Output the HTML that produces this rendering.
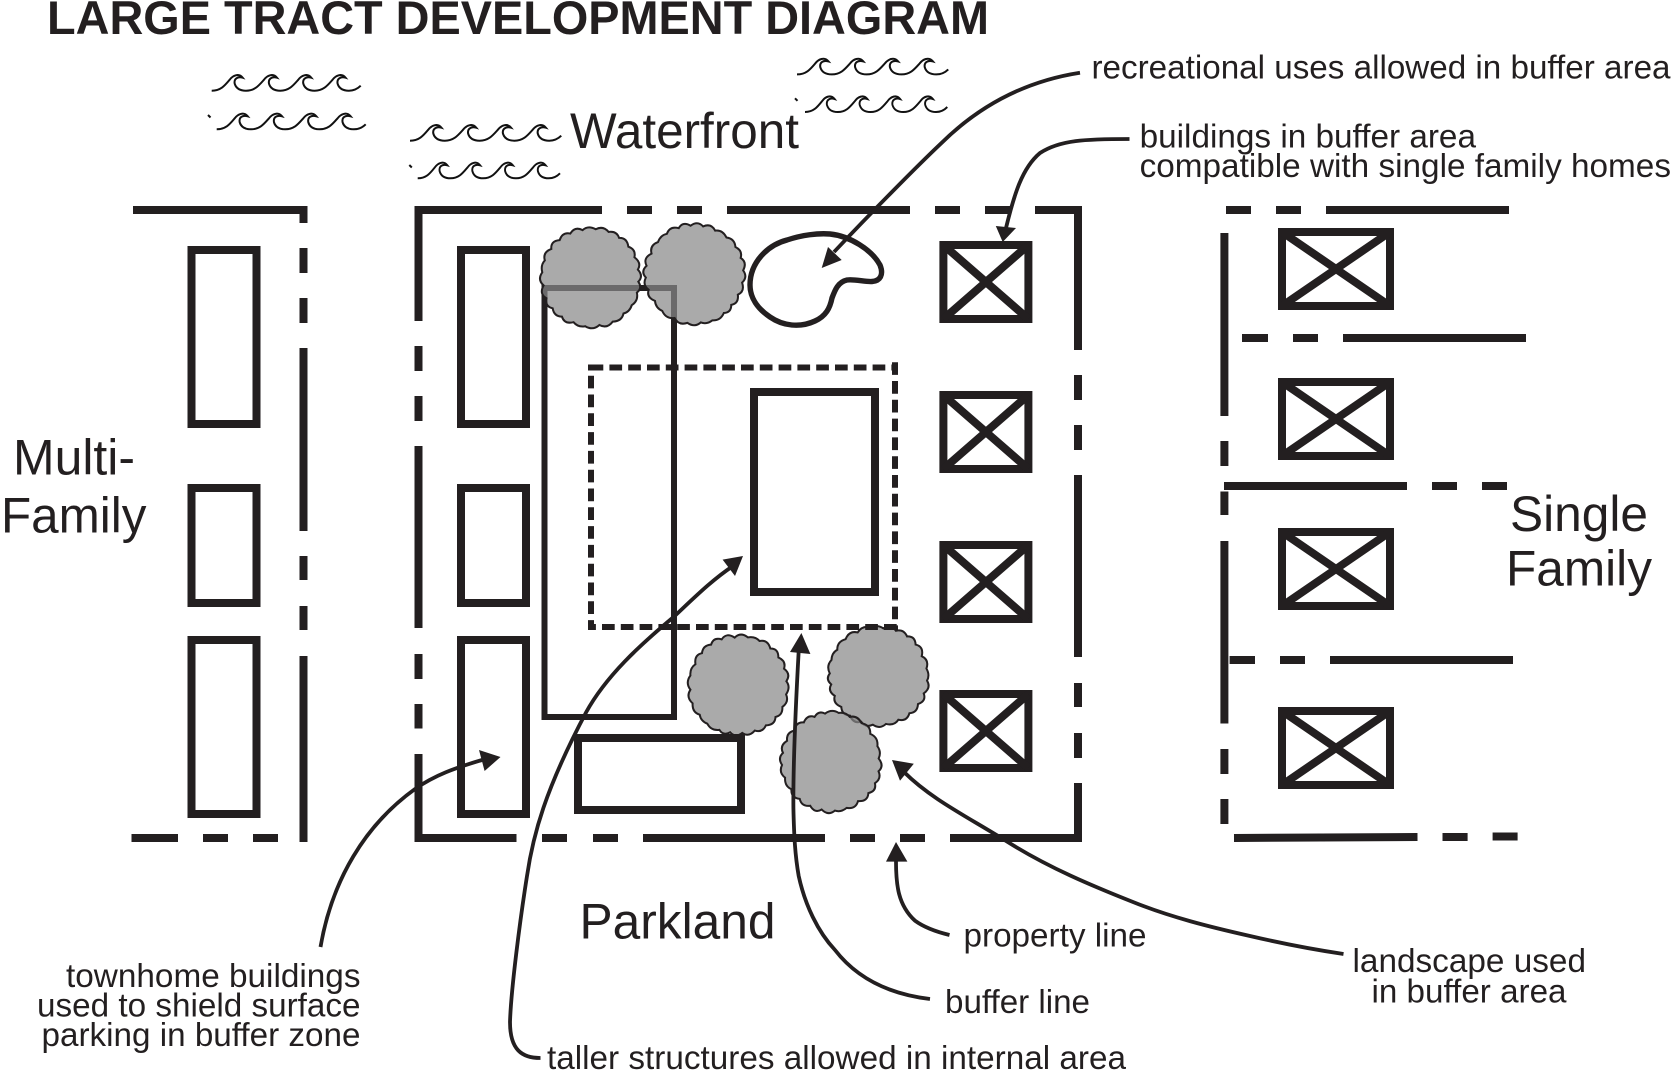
<!DOCTYPE html>
<html>
<head>
<meta charset="utf-8">
<style>
html,body{margin:0;padding:0;background:#fff;width:1671px;height:1070px;overflow:hidden}
svg{display:block}
text{font-family:"Liberation Sans",Arial,sans-serif;fill:#231f20}
.b{fill:none;stroke:#231f20;stroke-width:8}
.l{fill:none;stroke:#231f20;stroke-width:8}
.a{fill:none;stroke:#231f20;stroke-width:3.8}
.h{fill:#231f20;stroke:none}
.d{fill:none;stroke:#231f20;stroke-width:6;stroke-dasharray:12.7 6.1}
.x{fill:none;stroke:#231f20;stroke-width:8}
.w{fill:none;stroke:#111;stroke-width:2}
.s{font-size:33px}
.m{font-size:50.5px}
</style>
</head>
<body>
<svg width="1671" height="1070" viewBox="0 0 1671 1070" xmlns="http://www.w3.org/2000/svg">
<defs>
<g id="wv">
<path d="M0,0 C9,0 13,-5 18,-11 C21,-15 27,-18 31,-13 C26,-14.5 22,-12 23,-7 C24.5,-2 29,0 34.3,0 C43,0 47,-5 52.3,-11 C55.3,-15 61.3,-18 65.3,-13 C60.3,-14.5 56.3,-12 57.3,-7 C58.8,-2 63.3,0 68.6,0 C77.3,0 81.3,-5 86.6,-11 C89.6,-15 95.6,-18 99.6,-13 C94.6,-14.5 90.6,-12 91.6,-7 C93.1,-2 97.6,0 102.9,0 C111.6,0 115.6,-5 120.9,-11 C123.9,-15 129.9,-18 133.9,-13 C128.9,-14.5 124.9,-12 125.9,-7 C127.4,-2 131.9,0 137.2,0 C142,0 146,-2 149,-5" class="w"/>
</g>
<path id="tree" d="M48,0 Q53,6 47.5,11 Q50,19 43.5,24 Q42,31 36,33 Q35,41 26,42 Q21,50 13,46.5 Q7,53 -1,49 Q-8,51 -13,46 Q-22,49 -25,41.5 Q-33,42 -35,34 Q-43,33 -42,24.5 Q-50,21 -46,12 Q-53,7 -48.5,-1 Q-51,-8 -47,-13 Q-50,-21 -41.5,-25 Q-43,-33 -34,-34.5 Q-32,-43 -24,-42 Q-20,-50 -12,-46.5 Q-7,-52 1,-48.5 Q8,-53 14,-47 Q22,-49 25,-42 Q33,-43 35,-34 Q43,-32 42,-24 Q50,-19 46.5,-12 Q53,-6 48,0Z" fill="#888" fill-opacity=".716" stroke="#231f20" stroke-width="2"/>
<g id="xb1">
<rect x="4" y="4" width="85" height="74" class="x"/>
<path d="M4,4 L89,78 M89,4 L4,78" class="x" stroke-width="7"/>
</g>
<g id="xb2">
<rect x="4" y="4" width="108" height="74" class="x"/>
<path d="M4,4 L112,78 M112,4 L4,78" class="x" stroke-width="7"/>
</g>
</defs>

<rect width="1671" height="1070" fill="#fff"/>

<text x="47" y="34" font-size="47" font-weight="bold" textLength="942" lengthAdjust="spacingAndGlyphs">LARGE TRACT DEVELOPMENT DIAGRAM</text>

<!-- waves -->
<use href="#wv" x="211.7" y="90.7"/>
<use href="#wv" x="216.7" y="129.3"/>
<path d="M208,115 l2.5,2.5" class="w"/>
<use href="#wv" transform="translate(410,140.7) scale(1.015,1)"/>
<use href="#wv" transform="translate(417.7,178.3) scale(.955,1)"/>
<path d="M409.3,165 l2.5,2.5" class="w"/>
<use href="#wv" transform="translate(797,74.4) scale(1.015,1)"/>
<use href="#wv" transform="translate(805,112) scale(.955,1)"/>
<path d="M795,98.3 l2.5,2.5" class="w"/>

<!-- multi-family frame -->
<path class="l" d="M133,210 H303.5 V223 M303.5,248 V273 M303.5,298 V323 M303.5,348 V531 M303.5,556 V580 M303.5,606 V630 M303.5,656 V842"/>
<path class="l" d="M131.5,838 H178 M203,838 H228 M253,838 H278"/>
<rect x="191.5" y="250" width="65" height="174" class="b"/>
<rect x="191.5" y="488" width="65" height="115" class="b"/>
<rect x="191.5" y="640" width="65" height="174" class="b"/>

<!-- main frame -->
<path class="l" d="M418.5,321 V210 H602 M627,210 H652 M677,210 H702 M727,210 H910 M935,210 H960 M985,210 H1010 M1035,210 H1078 V350 M1078,375 V400 M1078,425 V450 M1078,475 V657 M1078,683 V707 M1078,733 V758 M1078,783 V838 H950 M925,838 H900 M875,838 H850 M825,838 H643 M618,838 H593 M567,838 H542 M516.5,838 H418.5 V754 M418.5,728.5 V704 M418.5,679 V654 M418.5,628 V446 M418.5,421 V396 M418.5,371 V346"/>
<rect x="461" y="250" width="65" height="174" class="b"/>
<rect x="461" y="488" width="65" height="115" class="b"/>
<rect x="461" y="640" width="65" height="174" class="b"/>

<!-- parking -->
<rect x="544.5" y="288" width="129.5" height="429" fill="none" stroke="#231f20" stroke-width="6"/>

<!-- trees -->
<use href="#tree" transform="translate(590.5,277.5) rotate(5)"/>
<use href="#tree" transform="translate(694.5,274) rotate(40)"/>
<use href="#tree" transform="translate(738.5,685) rotate(100)"/>
<use href="#tree" transform="translate(878.5,676) rotate(170)"/>
<use href="#tree" transform="translate(831,762) rotate(250)"/>

<rect x="578" y="738" width="163" height="72" class="b"/>
<rect x="754" y="392" width="121" height="200" class="b"/>

<!-- dashed buffer -->
<path d="M588,367.5 H594" stroke="#231f20" stroke-width="6"/>
<path class="d" d="M590.6,367.5 H898"/>
<path class="d" d="M591,375.7 V630"/>
<path class="d" d="M895,362.2 V630"/>
<path class="d" d="M588,627 H898" stroke-dashoffset="4.8"/>

<!-- pond -->
<path fill="none" stroke="#231f20" stroke-width="5.4" d="M750,285 C750,262 768,245 787,240 C802,235 818,233 830,234 C850,236 872,250 880,265 C884,275 880,281 872,281.5 C865,282 855,279 847,280 C838,282 835,290 832,298 C830,308 826,316 815,321 C800,328 783,326 770,317 C758,309 750,298 750,285Z"/>

<!-- X boxes main -->
<use href="#xb1" x="939.4" y="241"/>
<use href="#xb1" x="939.4" y="391"/>
<use href="#xb1" x="939.4" y="541"/>
<use href="#xb1" x="939.4" y="690"/>
<!-- X boxes right -->
<use href="#xb2" x="1278" y="228"/>
<use href="#xb2" x="1278" y="378"/>
<use href="#xb2" x="1278" y="528"/>
<use href="#xb2" x="1278" y="707"/>

<!-- single-family lines -->
<path class="l" d="M1226,210 H1251 M1276,210 H1301 M1326,210 H1509"/>
<path class="l" d="M1224.4,233 V416 M1224.4,441 V466 M1224.4,491.5 V515 M1224.4,541 V723.5 M1224.4,749 V774 M1224.4,799 V824"/>
<path class="l" d="M1242,338 H1268 M1293,338 H1318 M1343,338 H1526"/>
<path class="l" d="M1224,486 H1407 M1432,486 H1457 M1482,486 H1507"/>
<path class="l" d="M1229.6,660 H1255 M1280,660 H1305 M1330,660 H1513"/>
<path class="l" d="M1234,838 L1417.5,837 M1442.5,837 H1467.6 M1492.6,836.5 H1517.6"/>

<!-- arrows -->
<path class="a" d="M1080,72.7 C1020,82 975,110 941.5,143 C915,168 868,216 834,252"/>
<path class="h" d="M821.7,268 L828,247 L841.7,260Z"/>

<path class="a" d="M1129.5,139 C1085,139 1060,140 1040,153 C1022,168 1014,195 1006,228"/>
<path class="h" d="M1002.7,242 L995.8,226 L1016,228Z"/>

<path class="a" d="M320.5,947 C332,880 365,825 415,789 C435,775 455,768 482,760"/>
<path class="h" d="M500.5,757 L479,750 L484.6,771Z"/>

<path class="a" d="M540.5,1058 C522,1058 510,1050 510,1022 C511,990 520,920 527,876 C533,835 545,790 586,712.5 C606,676 640,645 673.6,617 C695,597 712,580 733,566"/>
<path class="h" d="M743,556 L722.6,559.6 L735,576Z"/>

<path class="a" d="M798.7,651 C796,700 793,760 793.4,808 C794,835 795,855 798.7,876 C805,905 818,932 835,950 C852,972 880,993 930,999"/>
<path class="h" d="M801.4,633 L790,652 L810.4,654Z"/>

<path class="a" d="M896,861 C896,885 898,905 915,920.7 C925,928 937,932 949.5,935"/>
<path class="h" d="M896,842 L886,861.6 L907.4,861.6Z"/>

<path class="a" d="M904,772 C932,800 970,818 1011,844 C1050,868 1090,885 1133,902 C1170,917 1210,927 1250,936 C1280,943 1310,949 1343.5,954"/>
<path class="h" d="M892,760 L913.8,763.7 L900,780.7Z"/>

<!-- labels -->
<text x="570" y="148" class="m" textLength="229" lengthAdjust="spacingAndGlyphs">Waterfront</text>
<text x="13" y="474.5" class="m" textLength="122" lengthAdjust="spacingAndGlyphs">Multi-</text>
<text x="1" y="532.5" class="m" textLength="145.4" lengthAdjust="spacingAndGlyphs">Family</text>
<text x="1510" y="531" class="m" textLength="138" lengthAdjust="spacingAndGlyphs">Single</text>
<text x="1506" y="585.5" class="m" textLength="146" lengthAdjust="spacingAndGlyphs">Family</text>
<text x="579.5" y="938.5" class="m" textLength="196" lengthAdjust="spacingAndGlyphs">Parkland</text>

<text x="1091.5" y="78.5" class="s" textLength="579" lengthAdjust="spacingAndGlyphs">recreational uses allowed in buffer area</text>
<text x="1139.6" y="147.5" class="s" textLength="336.4" lengthAdjust="spacingAndGlyphs">buildings in buffer area</text>
<text x="1139.6" y="177.2" class="s" textLength="531.4" lengthAdjust="spacingAndGlyphs">compatible with single family homes</text>
<text x="66" y="987" class="s" textLength="294.5" lengthAdjust="spacingAndGlyphs">townhome buildings</text>
<text x="37" y="1016.5" class="s" textLength="323.5" lengthAdjust="spacingAndGlyphs">used to shield surface</text>
<text x="41.5" y="1046" class="s" textLength="319" lengthAdjust="spacingAndGlyphs">parking in buffer zone</text>
<text x="547" y="1069" class="s" textLength="579" lengthAdjust="spacingAndGlyphs">taller structures allowed in internal area</text>
<text x="963.5" y="946.6" class="s" textLength="183" lengthAdjust="spacingAndGlyphs">property line</text>
<text x="945" y="1013" class="s" textLength="145" lengthAdjust="spacingAndGlyphs">buffer line</text>
<text x="1352.5" y="972" class="s" textLength="233.5" lengthAdjust="spacingAndGlyphs">landscape used</text>
<text x="1371.5" y="1002.5" class="s" textLength="195" lengthAdjust="spacingAndGlyphs">in buffer area</text>
</svg>
</body>
</html>
